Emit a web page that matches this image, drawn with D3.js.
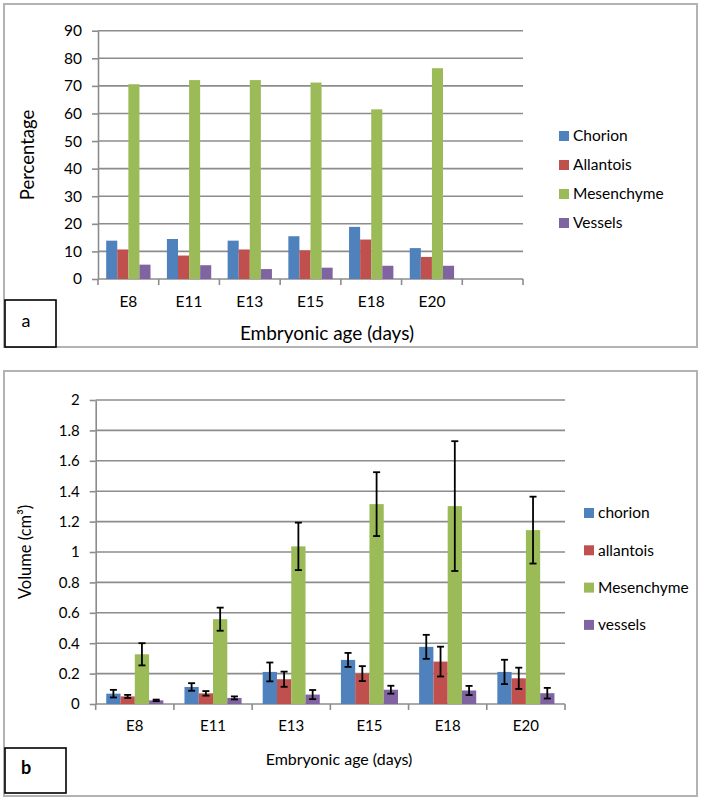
<!DOCTYPE html>
<html><head><meta charset="utf-8">
<script src="https://cdn.jsdelivr.net/npm/d3@7"></script>
<style>
html,body{margin:0;padding:0;background:#fff;}
svg text{font-family:Lato,"Open Sans",sans-serif;fill:#000;}
</style></head>
<body><svg id="c" width="706" height="802"></svg>
<script>
// ---- data ----
const categories = ["E8","E11","E13","E15","E18","E20"];
const seriesA = ["Chorion","Allantois","Mesenchyme","Vessels"];
const seriesB = ["chorion","allantois","Mesenchyme","vessels"];
const colors = ["#4F81BD","#C0504D","#9BBB59","#8064A2"];
// panel a: percentage
const chorionPct    = [13.9, 14.5, 13.9, 15.5, 18.9, 11.2];
const allantoisPct  = [10.7, 8.5, 10.7, 10.4, 14.3, 8.0];
const mesenchymePct = [70.6, 72.1, 72.1, 71.2, 61.5, 76.4];
const vesselsPct    = [5.2, 5.0, 3.6, 4.1, 4.8, 4.8];
const ticksA = [0,10,20,30,40,50,60,70,80,90];
// panel b: volume (cm3) and errors
const chorionVol    = [0.068, 0.112, 0.211, 0.290, 0.376, 0.211];
const allantoisVol  = [0.050, 0.070, 0.163, 0.200, 0.279, 0.169];
const mesenchymeVol = [0.327, 0.558, 1.037, 1.315, 1.302, 1.144];
const vesselsVol    = [0.024, 0.040, 0.062, 0.094, 0.089, 0.071];
const chorionErr    = [0.025, 0.025, 0.062, 0.046, 0.079, 0.080];
const allantoisErr  = [0.010, 0.015, 0.050, 0.049, 0.098, 0.070];
const mesenchymeErr = [0.073, 0.076, 0.156, 0.210, 0.427, 0.220];
const vesselsErr    = [0.005, 0.010, 0.030, 0.026, 0.030, 0.035];
const ticksB = [0,0.2,0.4,0.6,0.8,1,1.2,1.4,1.6,1.8,2];

const svg = d3.select("#c");
const GRID = "#8c8c8c";

function panel(o){
  const g = svg.append("g");
  g.append("rect").attr("x",o.box[0]).attr("y",o.box[1]).attr("width",o.box[2]).attr("height",o.box[3])
    .attr("fill","none").attr("stroke","#b3b3b3").attr("stroke-width",2);
  const x0 = d3.scaleBand().domain(o.domainX).range(o.xr);
  const x1 = d3.scaleBand().domain(o.series).range([x0.bandwidth()*0.135, x0.bandwidth()*0.865]);
  const y = d3.scaleLinear().domain(o.yd).range(o.yr);
  g.append("g").selectAll("line").data(o.ticks.slice(1)).join("line")
    .attr("x1",o.xr[0]).attr("x2",o.xr[1]).attr("y1",d=>y(d)).attr("y2",d=>y(d))
    .attr("stroke",GRID).attr("stroke-width",1.6);
  const ya = g.append("g").attr("transform",`translate(${o.xr[0]},0)`)
    .call(d3.axisLeft(y).tickValues(o.ticks).tickSize(6).tickSizeOuter(0).tickFormat(d=>String(d)));
  ya.select(".domain").attr("stroke",GRID).attr("stroke-width",1.6);
  ya.selectAll(".tick line").attr("stroke",GRID).attr("stroke-width",1.6);
  ya.selectAll(".tick text").attr("font-size",o.fs).attr("font-family","Lato").attr("fill","#111").attr("x",-16);
  const xa = g.append("g").attr("transform",`translate(0,${o.yr[0]})`);
  xa.append("line").attr("x1",o.xr[0]).attr("x2",o.xr[1]).attr("stroke",GRID).attr("stroke-width",1.6);
  const bounds = o.domainX.map(d=>x0(d)).concat([o.xr[1]]);
  xa.selectAll("line.tk").data(bounds).join("line").attr("class","tk")
    .attr("x1",d=>d).attr("x2",d=>d).attr("y1",0).attr("y2",6).attr("stroke",GRID).attr("stroke-width",1.6);
  xa.selectAll("text").data(categories).join("text")
    .attr("x",d=>x0(d)+x0.bandwidth()/2).attr("y",o.xly).attr("text-anchor","middle")
    .attr("font-size",o.fsx).attr("fill","#111").text(d=>d);
  const gg = g.append("g").selectAll("g").data(categories).join("g")
    .attr("transform",d=>`translate(${x0(d)},0)`);
  gg.selectAll("rect").data((d,i)=>o.series.map((s,k)=>({s,k,v:o.vals[k][i]}))).join("rect")
    .attr("x",d=>x1(d.s)).attr("width",x1.bandwidth()).attr("y",d=>y(d.v)).attr("height",d=>y(0)-y(d.v))
    .attr("fill",d=>colors[d.k]);
  if(o.errs){
    const eb = gg.selectAll("g.eb").data((d,i)=>o.series.map((s,k)=>({s,k,v:o.vals[k][i],e:o.errs[k][i]}))).join("g").attr("class","eb");
    eb.append("line").attr("x1",d=>x1(d.s)+x1.bandwidth()/2).attr("x2",d=>x1(d.s)+x1.bandwidth()/2)
      .attr("y1",d=>y(d.v+d.e)).attr("y2",d=>y(d.v-d.e)).attr("stroke","#000").attr("stroke-width",1.8);
    [1,-1].forEach(sg=>{
      eb.append("line").attr("x1",d=>x1(d.s)+x1.bandwidth()/2-3.5).attr("x2",d=>x1(d.s)+x1.bandwidth()/2+3.5)
        .attr("y1",d=>y(d.v+sg*d.e)).attr("y2",d=>y(d.v+sg*d.e)).attr("stroke","#000").attr("stroke-width",1.8);
    });
  }
  const lg = g.append("g").selectAll("g").data(o.series).join("g")
    .attr("transform",(d,i)=>`translate(${o.leg[0]},${o.leg[1]+i*o.leg[2]})`);
  lg.append("rect").attr("x",-5).attr("y",-5).attr("width",10).attr("height",10).attr("fill",(d,i)=>colors[i]);
  lg.append("text").attr("x",9).attr("y",0).attr("dy","0.35em").attr("font-size",o.fsl).attr("fill","#111").text(d=>d);
  g.append("text").attr("transform",`translate(${o.yt[0]},${o.yt[1]}) rotate(-90)`).attr("text-anchor","middle")
    .attr("dy","0.35em").attr("font-size",o.fsyt).attr("fill","#111").text(o.ytitle);
  g.append("text").attr("x",o.xt[0]).attr("y",o.xt[1]).attr("text-anchor","middle").attr("dy","0.35em")
    .attr("font-size",o.fsxt).attr("fill","#111").text("Embryonic age (days)");
  g.append("rect").attr("x",o.lb[0]).attr("y",o.lb[1]).attr("width",o.lb[2]).attr("height",o.lb[3])
    .attr("fill","#fff").attr("stroke","#000").attr("stroke-width",1.6);
  g.append("text").attr("x",o.lb[0]+o.lt[0]).attr("y",o.lb[1]+o.lt[1]).attr("dy","0.35em").attr("text-anchor","middle")
    .attr("font-size",18).attr("font-weight",o.bold?"bold":"normal").text(o.letter);
}

panel({
  box:[4,4,693,343], domainX:categories.concat([" "]), xr:[98,523], yd:[0,90], yr:[279,30.7],
  series:seriesA, vals:[chorionPct,allantoisPct,mesenchymePct,vesselsPct], ticks:ticksA,
  fs:15.5, fsx:15.5, xly:28, fsl:15.5, leg:[564,136,29], yt:[28,155], ytitle:"Percentage", fsyt:18.5,
  xt:[327,333], fsxt:19, lb:[5,300,51,47], lt:[21,21], letter:"a", bold:false
});
panel({
  box:[4,371,693,425], domainX:categories, xr:[95.7,565], yd:[0,2], yr:[704,400],
  series:seriesB, vals:[chorionVol,allantoisVol,mesenchymeVol,vesselsVol],
  errs:[chorionErr,allantoisErr,mesenchymeErr,vesselsErr], ticks:ticksB,
  fs:15, fsx:15, xly:27, fsl:15.5, leg:[589,513,37.3], yt:[25,552], ytitle:"Volume (cm³)", fsyt:16.5,
  xt:[339,759], fsxt:16, lb:[5,748,61,45], lt:[21,20], letter:"b", bold:true
});
</script></body></html>
